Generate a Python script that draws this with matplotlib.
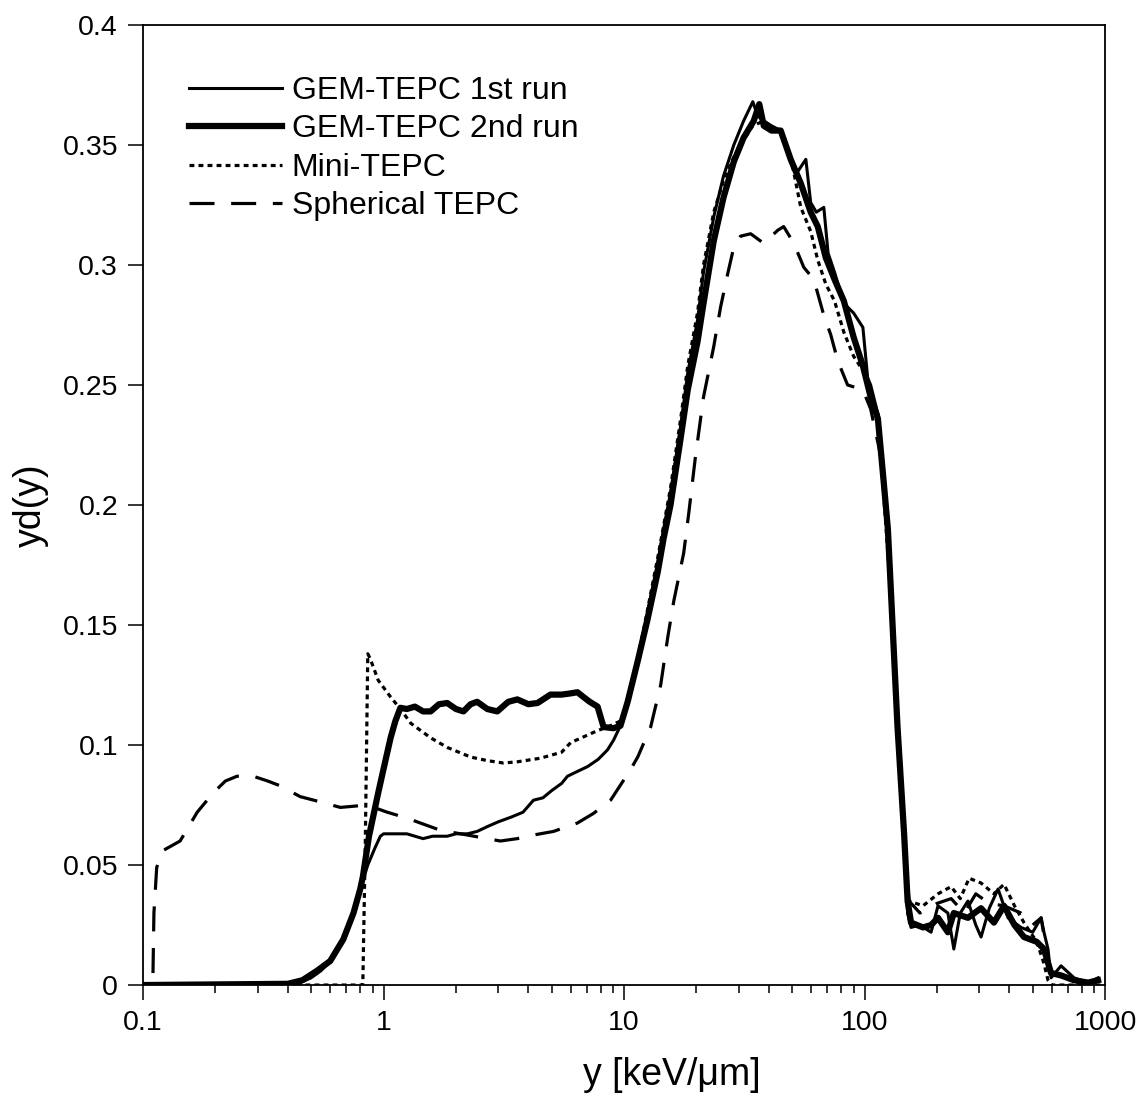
"""
Microdosimetric spectra yd(y) for the GEM-TEPC runs, Mini-TEPC and spherical TEPC
"""

import numpy as np
import matplotlib.pyplot as plt

plt.rcParams['font.family'] = ['Liberation Sans', 'DejaVu Sans']
plt.rcParams['lines.scale_dashes'] = False

# GEM-TEPC 1st run
y_run1 = [0.1, 0.2, 0.3, 0.45, 0.5, 0.55, 0.6, 0.68, 0.75, 0.8, 0.86, 0.92, 0.97, 1.0, 1.1, 1.25, 1.46, 1.6,
          1.84, 2.0, 2.23, 2.45, 2.7, 3.0, 3.4, 3.8, 4.2, 4.6, 5.0, 5.5, 5.82, 6.4, 7.05, 7.8, 8.54, 9.04, 9.66,
          10.35, 11.4, 12.5, 13.8, 14.6, 15.6, 17.2, 18.4, 20.2, 21.4, 23.6, 25.9, 28.6, 31.4, 34.3, 36, 38.1,
          41, 44.8, 49.3, 52, 57, 59.7, 63, 67.7, 70.5, 75, 82, 90, 98.4, 103, 106, 113.6, 117, 120, 125, 129,
          137, 146, 151, 156, 170, 189, 202, 222, 235, 250, 269, 290, 305, 330, 359, 395, 447, 500, 542, 557,
          579, 596, 656, 743, 850, 935]
yd_run1 = [0.0, 0.0, 0.0005, 0.001, 0.003, 0.006, 0.010, 0.019, 0.030, 0.040, 0.050, 0.057, 0.062, 0.063, 0.063,
           0.063, 0.061, 0.062, 0.062, 0.063, 0.063, 0.064, 0.066, 0.068, 0.070, 0.072, 0.077, 0.078, 0.081,
           0.084, 0.087, 0.089, 0.091, 0.094, 0.098, 0.102, 0.108, 0.117, 0.136, 0.155, 0.176, 0.190, 0.205,
           0.233, 0.255, 0.277, 0.297, 0.320, 0.337, 0.350, 0.360, 0.368, 0.362, 0.360, 0.358, 0.356, 0.345,
           0.338, 0.344, 0.326, 0.322, 0.324, 0.305, 0.297, 0.284, 0.280, 0.274, 0.253, 0.250, 0.238, 0.222,
           0.205, 0.188, 0.165, 0.110, 0.065, 0.030, 0.024, 0.025, 0.022, 0.033, 0.030, 0.015, 0.030, 0.035,
           0.025, 0.020, 0.032, 0.040, 0.028, 0.024, 0.022, 0.028, 0.022, 0.015, 0.003, 0.008, 0.003, 0.001,
           0.003]

# GEM-TEPC 2nd run
y_run2 = [0.1, 0.4, 0.46, 0.53, 0.6, 0.68, 0.75, 0.8, 0.82, 0.87, 0.95, 1.0, 1.07, 1.12, 1.175, 1.25, 1.35, 1.46,
          1.57, 1.7, 1.84, 2.0, 2.15, 2.3, 2.45, 2.7, 2.97, 3.3, 3.6, 4.0, 4.37, 4.94, 5.5, 5.99, 6.4, 6.78, 7.2,
          7.76, 8.22, 9.04, 9.66, 10.35, 11.4, 12.5, 13.8, 14.6, 15.6, 17.2, 18.4, 20.2, 21.4, 23.6, 25.9, 28.6,
          31.4, 34.6, 36.5, 38.1, 41, 44.8, 49.3, 54.3, 59.7, 63.9, 69, 75, 82, 90, 98.4, 106, 113.6, 120, 125,
          129, 137, 146, 151, 156, 175, 189, 202, 222, 235, 269, 305, 345, 380, 420, 460, 520, 557, 596, 656,
          743, 850, 935]
yd_run2 = [0.0, 0.0005, 0.002, 0.006, 0.010, 0.019, 0.030, 0.040, 0.045, 0.062, 0.080, 0.090, 0.103, 0.110,
           0.1155, 0.115, 0.116, 0.114, 0.114, 0.117, 0.1175, 0.115, 0.114, 0.117, 0.118, 0.115, 0.114, 0.118,
           0.119, 0.117, 0.1175, 0.121, 0.121, 0.1215, 0.122, 0.120, 0.118, 0.116, 0.1075, 0.107, 0.108, 0.118,
           0.135, 0.152, 0.172, 0.186, 0.200, 0.228, 0.248, 0.268, 0.284, 0.310, 0.328, 0.343, 0.353, 0.360,
           0.367, 0.358, 0.356, 0.356, 0.344, 0.334, 0.322, 0.316, 0.303, 0.294, 0.285, 0.270, 0.258, 0.245,
           0.236, 0.210, 0.190, 0.162, 0.108, 0.063, 0.035, 0.026, 0.024, 0.025, 0.028, 0.022, 0.030, 0.028,
           0.032, 0.026, 0.033, 0.025, 0.020, 0.018, 0.015, 0.005, 0.004, 0.002, 0.001, 0.002]

# Mini-TEPC
y_mini = [0.1, 0.82, 0.84, 0.86, 0.88, 0.95, 1.07, 1.175, 1.3, 1.57, 1.84, 2.3, 2.7, 3.15, 3.6, 4.49, 5.5, 6.0,
          7.76, 8.54, 9.66, 10.35, 11.4, 12.5, 13.8, 15.6, 17.2, 18.4, 20.2, 21.4, 23.6, 25.9, 28.6, 31.4, 34.3,
          38.1, 44.8, 49.3, 54.3, 59.7, 63.9, 69, 75, 82, 90, 98.4, 106, 113.6, 120, 129, 137, 146, 153, 175,
          202, 229, 250, 272, 305, 345, 380, 420, 460, 520, 557, 579, 600, 1000]
yd_mini = [0.0, 0.0, 0.06, 0.138, 0.136, 0.127, 0.120, 0.115, 0.109, 0.103, 0.099, 0.095, 0.0935, 0.0925, 0.093,
           0.0945, 0.097, 0.101, 0.106, 0.1075, 0.110, 0.118, 0.136, 0.156, 0.178, 0.207, 0.236, 0.258, 0.280,
           0.300, 0.322, 0.335, 0.345, 0.352, 0.358, 0.360, 0.355, 0.345, 0.324, 0.314, 0.302, 0.292, 0.285,
           0.272, 0.262, 0.256, 0.246, 0.238, 0.205, 0.160, 0.105, 0.060, 0.035, 0.033, 0.038, 0.041, 0.036,
           0.0445, 0.0425, 0.038, 0.042, 0.033, 0.026, 0.018, 0.009, 0.002, 0.0, 0.0]

# Spherical TEPC
y_sph = [0.11, 0.111, 0.114, 0.121, 0.1426, 0.168, 0.1956, 0.22, 0.246, 0.287, 0.33, 0.372, 0.45, 0.561, 0.661,
         0.855, 1.036, 1.256, 1.422, 1.722, 2.23, 3.06, 3.6, 4.2, 5.09, 6.4, 7.46, 8.79, 10.6, 11.4, 12.9, 14.2,
         15.2, 16.1, 17.7, 18.6, 19.8, 21.4, 23.6, 25.2, 27.0, 28.6, 30.5, 33.6, 38.1, 43.6, 46.1, 50.8, 55.9,
         61.5, 67.7, 72.3, 77.4, 85, 98.4, 106, 117, 125, 137, 146, 153, 170, 200, 229, 260, 290, 330, 380, 447,
         500, 542, 579, 600, 656]
yd_sph = [0.005, 0.030, 0.049, 0.056, 0.060, 0.072, 0.080, 0.085, 0.087, 0.087, 0.085, 0.083, 0.0785, 0.076,
          0.074, 0.075, 0.072, 0.0695, 0.0675, 0.0645, 0.0625, 0.060, 0.061, 0.0625, 0.064, 0.0675, 0.0715,
          0.077, 0.0895, 0.095, 0.1075, 0.125, 0.145, 0.160, 0.180, 0.197, 0.220, 0.245, 0.266, 0.2825, 0.2965,
          0.3075, 0.312, 0.313, 0.309, 0.3145, 0.316, 0.309, 0.299, 0.294, 0.279, 0.271, 0.260, 0.250, 0.248,
          0.240, 0.220, 0.188, 0.108, 0.063, 0.035, 0.030, 0.034, 0.036, 0.030, 0.038, 0.034, 0.033, 0.030,
          0.025, 0.028, 0.010, 0.003, 0.001]

fig = plt.figure(figsize=(11.46, 10.99), dpi=100)
ax = fig.add_axes([0.1248, 0.1037, 0.8395, 0.8736])

ax.plot(y_run1, yd_run1, color='black', lw=2.2, label='GEM-TEPC 1st run')
ax.plot(y_run2, yd_run2, color='black', lw=4.5, label='GEM-TEPC 2nd run')
ax.plot(y_mini, yd_mini, color='black', lw=2.3, dashes=(3.5, 3), label='Mini-TEPC')
ax.plot(y_sph, yd_sph, color='black', lw=2.3, dashes=(18, 12), label='Spherical TEPC')

ax.set_xscale('log')
ax.set_xlim(0.1, 1000)
ax.set_ylim(0, 0.4)
ax.set_xticks([0.1, 1, 10, 100, 1000])
ax.set_xticklabels(['0.1', '1', '10', '100', '1000'])
ax.set_yticks(np.arange(0, 0.41, 0.05))
ax.set_yticklabels(['0', '0.05', '0.1', '0.15', '0.2', '0.25', '0.3', '0.35', '0.4'])

ax.tick_params(axis='both', which='major', direction='out', length=11, width=1.1, labelsize=20.5, pad=7)
ax.tick_params(axis='x', which='minor', direction='out', length=6, width=1.1)
for s in ax.spines.values():
    s.set_linewidth(1.3)

ax.set_xlabel('y [keV/μm]', fontsize=27)
ax.xaxis.set_label_coords(0.55, -0.075)
ax.set_ylabel('yd(y)', fontsize=27, labelpad=10)

ax.legend(loc='upper left', bbox_to_anchor=(0.035, 0.96), frameon=False, fontsize=23,
          handlelength=2.9, handletextpad=0.3, labelspacing=0.26, borderaxespad=0)

fig.savefig('out.png', dpi=100)
